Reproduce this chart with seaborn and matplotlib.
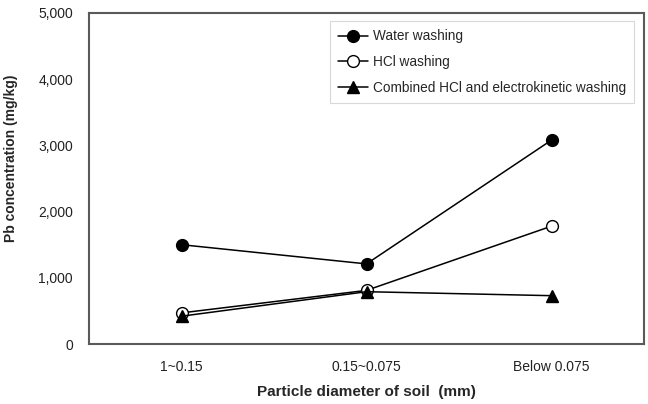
import matplotlib
matplotlib.use("Agg")
import matplotlib.pyplot as plt
import seaborn as sns
import pandas as pd
from matplotlib.ticker import FuncFormatter, FixedLocator

categories = ["1~0.15", "0.15~0.075", "Below 0.075"]
water = [1500, 1210, 3080]
hcl = [470, 810, 1780]
combined = [420, 790, 730]
series_names = ["Water washing", "HCl washing", "Combined HCl and electrokinetic washing"]

sns.set_theme(style="white")
plt.rcParams["font.family"] = ["Liberation Sans", "DejaVu Sans"]

fig = plt.figure(figsize=(6.48, 4.04), dpi=100)
ax = fig.add_axes([89/648, 1-344/404, (644-89)/648, (344-13)/404])

styles = [
    dict(marker="o", mfc="black", mec="black"),
    dict(marker="o", mfc="white", mec="black"),
    dict(marker="^", mfc="black", mec="black"),
]
for name, vals, st in zip(series_names, [water, hcl, combined], styles):
    df = pd.DataFrame({"x": range(len(categories)), "y": vals})
    sns.lineplot(data=df, x="x", y="y", ax=ax, color="black", lw=1.1,
                 marker=st["marker"], markersize=8.5,
                 markerfacecolor=st["mfc"], markeredgecolor=st["mec"],
                 markeredgewidth=1.0, label=name)

ax.set_xlim(-0.5, 2.5)
ax.set_ylim(0, 5000)
ax.set_xticks(range(len(categories)))
ax.set_xticklabels(categories)
ax.xaxis.set_minor_locator(FixedLocator([0.5, 1.5]))
ax.set_yticks(range(0, 5001, 1000))
ax.yaxis.set_major_formatter(FuncFormatter(lambda v, p: f"{int(v):,}"))
ax.tick_params(axis="both", which="both", direction="out", length=4, width=0.8,
               color="#c8c8c8", labelsize=10, labelcolor="#222222")
ax.tick_params(axis="x", which="major", pad=7.5)
ax.tick_params(axis="y", which="major", pad=7.5)
for s in ax.spines.values():
    s.set_color("#5a5a5a")
    s.set_linewidth(1.5)

ax.set_xlabel("Particle diameter of soil  (mm)", fontsize=11, fontweight="bold", labelpad=8)
ax.set_ylabel("Pb concentration (mg/kg)", fontsize=10, fontweight="bold", labelpad=8)
ax.yaxis.set_label_coords(-0.128, 0.562)

leg = ax.legend(loc="upper left", bbox_to_anchor=(0.434, 0.975), borderaxespad=0,
                frameon=True, fancybox=False, fontsize=9.8, handlelength=2.2,
                handletextpad=0.35, labelspacing=0.85, borderpad=0.6)
leg.get_frame().set_edgecolor("#d0d0d0")
leg.get_frame().set_linewidth(0.8)

fig.savefig("out.png", dpi=100)
